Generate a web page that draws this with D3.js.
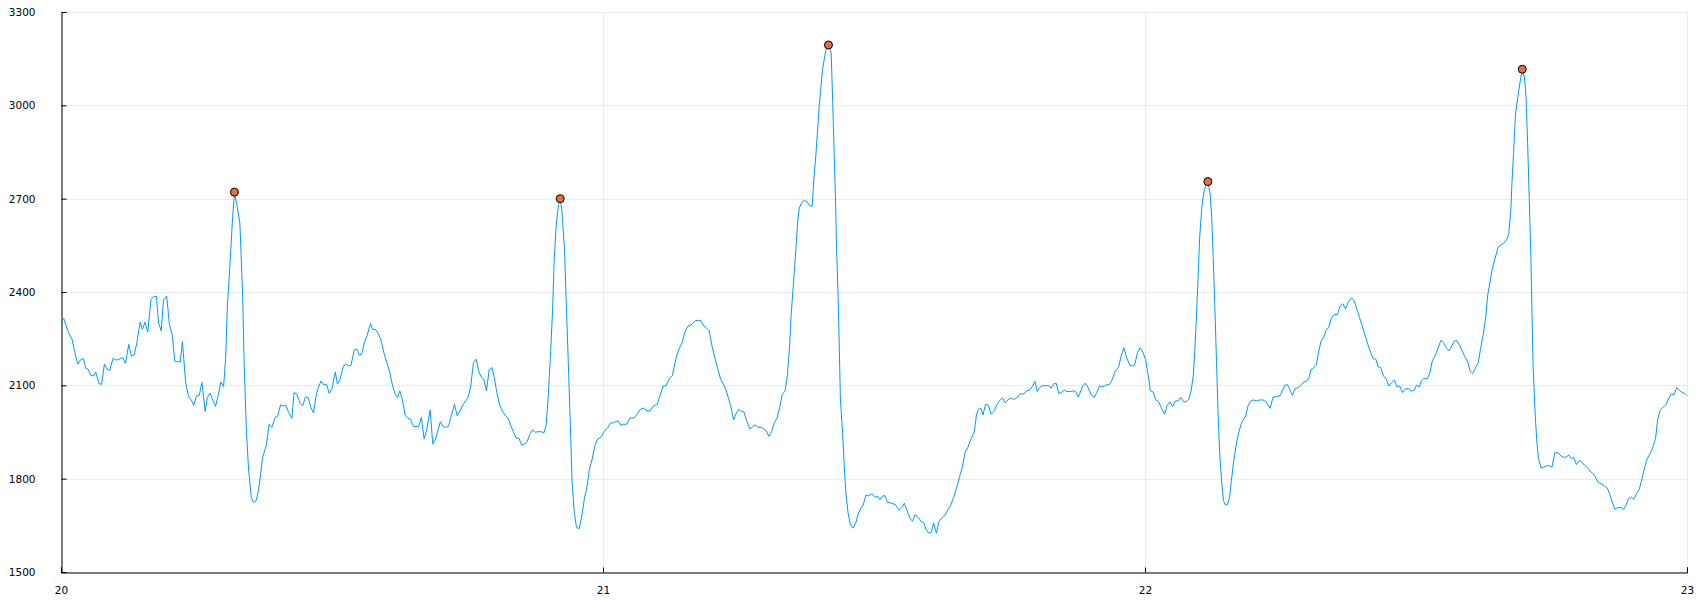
<!DOCTYPE html>
<html>
<head>
<meta charset="utf-8">
<script src="https://cdn.jsdelivr.net/npm/d3@7"></script>
<style>
  body { margin: 0; background: #fff; }
  svg { display: block; }
  text { font-family: "DejaVu Sans", sans-serif; font-size: 10.5px; fill: #000; }
</style>
</head>
<body>
<svg id="chart" width="1700" height="600"></svg>
<script>
// tick values
var xTicks = [20, 21, 22, 23];
var yTicks = [1500, 1800, 2100, 2400, 2700, 3000, 3300];

// detected R peaks
var peakTime = [20.320, 20.921, 21.416, 22.116, 22.696];
var peakValue = [2721, 2700, 3194, 2755, 3116];

// signal, [time (s), value]
var ecgTrace = [
  [20.000,2303],[20.005,2315],[20.014,2269],[20.020,2250],[20.025,2210],[20.031,2168],[20.037,2184],[20.041,2186],
  [20.046,2154],[20.050,2152],[20.055,2132],[20.060,2130],[20.064,2143],[20.070,2106],[20.075,2103],[20.080,2168],
  [20.085,2152],[20.090,2148],[20.096,2187],[20.102,2181],[20.107,2184],[20.114,2189],[20.119,2170],[20.125,2232],
  [20.130,2194],[20.135,2198],[20.140,2237],[20.146,2303],[20.150,2280],[20.155,2303],[20.160,2271],[20.166,2376],
  [20.171,2385],[20.176,2386],[20.180,2301],[20.185,2275],[20.189,2374],[20.195,2387],[20.200,2296],[20.205,2264],
  [20.210,2178],[20.215,2176],[20.220,2175],[20.224,2240],[20.230,2109],[20.235,2066],[20.241,2050],[20.245,2036],
  [20.250,2066],[20.255,2068],[20.260,2109],[20.266,2016],[20.270,2061],[20.275,2075],[20.280,2053],[20.285,2032],
  [20.290,2068],[20.295,2111],[20.300,2096],[20.304,2194],[20.307,2355],[20.312,2494],[20.316,2622],[20.320,2721],
  [20.325,2675],[20.330,2622],[20.335,2398],[20.338,2162],[20.342,1959],[20.346,1831],[20.351,1740],[20.355,1724],
  [20.360,1729],[20.365,1767],
  [20.372,1868],[20.379,1908],[20.384,1975],[20.389,1965],[20.395,1997],[20.400,2002],[20.405,2037],[20.410,2034],
  [20.415,2036],[20.420,2013],[20.426,1994],[20.430,2077],[20.435,2072],[20.441,2043],[20.446,2034],[20.451,2063],
  [20.456,2061],[20.461,2029],[20.466,2011],[20.470,2061],[20.475,2095],[20.480,2114],[20.485,2101],[20.490,2103],
  [20.495,2074],[20.500,2090],[20.506,2143],[20.510,2104],[20.515,2120],[20.521,2162],[20.526,2168],[20.531,2162],
  [20.535,2164],[20.541,2214],[20.546,2216],[20.550,2197],[20.555,2201],[20.560,2240],[20.565,2261],[20.571,2299],
  [20.575,2280],[20.580,2280],[20.585,2267],[20.590,2248],[20.596,2203],[20.601,2173],[20.606,2146],[20.611,2104],
  [20.616,2074],[20.621,2061],[20.625,2082],[20.630,2053],[20.635,2004],[20.640,1994],[20.645,1991],[20.650,1968],
  [20.655,1968],[20.660,1968],[20.665,1997],[20.670,1927],[20.675,1959],[20.681,2021],[20.686,1911],[20.691,1927],
  [20.696,1959],[20.700,1983],[20.705,1967],[20.710,1965],[20.715,1968],[20.720,2002],[20.726,2039],[20.731,2002],
  [20.736,2018],[20.742,2039],[20.748,2053],
  [20.752,2066],[20.756,2098],[20.761,2173],[20.766,2184],[20.771,2143],[20.776,2125],[20.780,2120],[20.785,2082],
  [20.790,2150],[20.795,2157],[20.800,2120],[20.804,2077],[20.810,2034],[20.815,2015],[20.820,2002],[20.825,1994],
  [20.830,1970],[20.835,1949],[20.840,1930],[20.845,1930],[20.850,1908],[20.855,1911],[20.860,1919],[20.865,1943],
  [20.870,1957],[20.875,1949],[20.880,1951],[20.886,1951],[20.891,1947],[20.895,1970],[20.899,2066],[20.903,2194],
  [20.907,2344],[20.910,2504],[20.914,2622],[20.918,2681],[20.921,2700],[20.924,2665],[20.929,2536],[20.932,2376],
  [20.936,2173],[20.940,1959],[20.943,1788],[20.947,1692],[20.951,1644],[20.956,1639],[20.961,1681],[20.966,1740],
  [20.970,1767],[20.975,1831],[20.980,1863],[20.985,1906],[20.990,1927],[20.996,1933],[21.002,1951],[21.009,1965],
  [21.014,1979],[21.018,1979],[21.023,1983],[21.028,1986],[21.033,1972],[21.038,1975],[21.044,1975],[21.050,1996],
  [21.057,1994],[21.063,2007],[21.069,2023],[21.075,2027],[21.081,2018],[21.087,2018],[21.093,2034],[21.100,2039],
  [21.105,2066],[21.111,2098],[21.116,2098],[21.122,2120],[21.128,2132],
  [21.135,2189],[21.140,2216],[21.146,2237],[21.151,2271],[21.157,2291],[21.164,2296],[21.170,2308],[21.176,2309],
  [21.181,2307],[21.186,2291],[21.191,2284],[21.196,2275],[21.201,2227],[21.207,2184],[21.212,2152],[21.217,2120],
  [21.222,2104],[21.227,2085],[21.232,2056],[21.237,2023],[21.241,1989],[21.245,2007],[21.250,2023],[21.255,2016],
  [21.260,2015],[21.265,1986],[21.271,1959],[21.276,1967],[21.281,1973],[21.286,1965],[21.291,1965],[21.296,1961],
  [21.301,1954],[21.306,1936],[21.311,1951],[21.316,1979],[21.321,1994],[21.326,2029],[21.331,2072],[21.336,2082],
  [21.340,2130],[21.344,2216],[21.347,2323],[21.351,2419],[21.355,2515],[21.359,2622],[21.362,2670],[21.367,2688],
  [21.371,2694],[21.376,2691],[21.381,2678],[21.386,2675],[21.389,2761],[21.393,2846],[21.399,3000],[21.405,3114],
  [21.411,3177],[21.416,3194],[21.421,3168],[21.424,3000],[21.429,2696],[21.431,2536],[21.434,2376],[21.436,2216],
  [21.438,2056],[21.442,1949],[21.445,1843],[21.448,1756],[21.452,1692],[21.456,1655],[21.461,1641],[21.466,1655],
  [21.470,1681],[21.475,1703],[21.480,1715],[21.485,1747],[21.490,1745],[21.496,1751],
  [21.502,1740],[21.507,1743],[21.511,1732],[21.515,1743],[21.520,1746],[21.525,1724],[21.533,1721],[21.540,1716],
  [21.546,1698],[21.551,1707],[21.556,1721],[21.561,1698],[21.566,1674],[21.571,1663],[21.576,1685],[21.581,1676],
  [21.587,1663],[21.592,1658],[21.596,1636],[21.601,1625],[21.606,1628],[21.610,1658],[21.615,1625],[21.620,1663],
  [21.625,1674],[21.630,1680],[21.635,1696],[21.641,1713],[21.647,1740],[21.653,1774],[21.658,1807],[21.663,1837],
  [21.668,1884],[21.673,1900],[21.679,1928],[21.685,1950],[21.689,2005],[21.692,2022],[21.697,2027],[21.701,2005],
  [21.706,2040],[21.711,2036],[21.716,2007],[21.721,2016],[21.727,2038],[21.732,2051],[21.737,2060],[21.742,2044],
  [21.748,2055],[21.754,2058],[21.759,2055],[21.765,2062],[21.770,2074],[21.776,2071],[21.781,2082],[21.787,2085],
  [21.792,2096],[21.797,2113],[21.801,2080],[21.806,2093],[21.811,2099],[21.817,2099],[21.822,2099],[21.827,2091],
  [21.831,2104],[21.836,2107],[21.841,2074],[21.846,2077],[21.851,2085],[21.856,2080],[21.862,2080],[21.868,2082],
  [21.872,2080],[21.877,2062],
  [21.880,2075],[21.885,2098],[21.890,2107],[21.895,2093],[21.900,2072],[21.906,2061],[21.911,2077],[21.916,2098],
  [21.921,2095],[21.927,2100],[21.935,2104],[21.940,2120],[21.945,2146],[21.951,2157],[21.956,2194],[21.961,2221],
  [21.966,2189],[21.972,2165],[21.977,2162],[21.981,2165],[21.986,2205],[21.991,2221],[21.996,2207],[22.001,2184],
  [22.006,2130],[22.010,2082],[22.015,2079],[22.020,2053],[22.025,2047],[22.030,2029],[22.036,2007],[22.041,2036],
  [22.046,2047],[22.051,2032],[22.056,2050],[22.061,2050],[22.066,2062],[22.071,2047],[22.076,2047],[22.081,2056],
  [22.085,2082],[22.089,2130],[22.092,2216],[22.095,2323],[22.098,2451],[22.101,2579],[22.105,2675],[22.109,2724],
  [22.113,2745],[22.116,2755],[22.120,2718],[22.123,2643],[22.126,2504],[22.129,2344],[22.132,2173],[22.135,2002],
  [22.138,1874],[22.142,1778],[22.145,1729],[22.148,1716],[22.152,1716],[22.156,1740],[22.159,1788],[22.163,1847],
  [22.168,1906],[22.173,1949],[22.178,1979],[22.183,1994],[22.186,2002],[22.190,2034],[22.195,2050],[22.200,2053],
  [22.206,2050],[22.212,2053],[22.218,2053],[22.224,2045],[22.231,2026],[22.236,2061],[22.242,2064],[22.249,2066],
  [22.254,2085],
  [22.258,2100],[22.263,2102],[22.267,2087],[22.272,2068],[22.277,2090],[22.283,2093],[22.288,2100],[22.293,2111],
  [22.298,2114],[22.303,2125],[22.306,2150],[22.311,2157],[22.316,2165],[22.320,2205],[22.325,2243],[22.330,2256],
  [22.335,2280],[22.339,2285],[22.344,2317],[22.349,2327],[22.355,2328],[22.360,2355],[22.365,2362],[22.370,2346],
  [22.375,2368],[22.381,2381],[22.386,2371],[22.391,2344],[22.396,2317],[22.401,2291],[22.406,2261],[22.411,2232],
  [22.416,2207],[22.421,2186],[22.426,2184],[22.430,2160],[22.435,2157],[22.440,2130],[22.445,2120],[22.450,2098],
  [22.455,2109],[22.460,2117],[22.465,2095],[22.470,2098],[22.475,2077],[22.480,2088],[22.486,2090],[22.491,2082],
  [22.496,2082],[22.501,2101],[22.506,2095],[22.510,2114],[22.515,2122],[22.520,2120],[22.525,2136],[22.530,2178],
  [22.535,2194],[22.540,2216],[22.546,2245],[22.551,2237],[22.556,2221],[22.561,2211],[22.566,2227],[22.571,2243],
  [22.576,2243],[22.581,2227],[22.585,2211],[22.590,2192],[22.595,2178],[22.600,2146],[22.605,2138],[22.610,2157],
  [22.615,2173],[22.619,2216],[22.624,2264],[22.629,2323],[22.632,2387],
  [22.641,2477],[22.646,2509],[22.651,2541],[22.656,2552],[22.662,2557],[22.667,2568],[22.671,2584],[22.675,2664],
  [22.677,2749],[22.680,2845],[22.682,2920],[22.684,2979],[22.688,3027],[22.692,3075],[22.696,3116],[22.700,3091],
  [22.703,3027],[22.706,2877],[22.709,2696],[22.712,2515],[22.714,2333],[22.716,2163],[22.720,2003],[22.723,1917],
  [22.726,1864],[22.731,1834],[22.737,1838],[22.744,1843],[22.751,1837],[22.756,1883],[22.761,1885],[22.766,1875],
  [22.772,1869],[22.777,1869],[22.782,1877],[22.787,1864],[22.791,1869],[22.796,1845],[22.801,1859],[22.806,1853],
  [22.811,1843],[22.817,1834],[22.823,1821],[22.830,1809],[22.836,1787],[22.842,1784],[22.848,1776],[22.853,1770],
  [22.858,1747],[22.863,1720],[22.867,1701],[22.872,1707],[22.878,1707],[22.883,1701],[22.887,1712],[22.892,1736],
  [22.897,1741],[22.902,1734],[22.907,1752],[22.912,1766],[22.917,1800],[22.922,1837],[22.927,1866],[22.932,1880],
  [22.937,1901],[22.942,1930],[22.946,1992],[22.951,2022],[22.956,2030],[22.961,2037],[22.966,2057],[22.971,2072],
  [22.976,2070],[22.981,2093],[22.986,2083],[22.991,2077],[22.996,2074],[23.000,2067]
];

var svg = d3.select("#chart");
var plotLeft = 61, plotRight = 1687, plotTop = 12, plotBottom = 572;

var x = d3.scaleLinear().domain([20, 23]).range([plotLeft, plotRight]);
var y = d3.scaleLinear().domain([1500, 3300]).range([plotBottom, plotTop]);

function px(v) { return Math.round(v) + 0.5; }

// grid
var grid = svg.append("g").attr("stroke", "#000").attr("stroke-opacity", 0.08).attr("stroke-width", 1);
grid.selectAll(".gx").data(xTicks).enter().append("line")
    .attr("x1", function(d) { return px(x(d)); })
    .attr("x2", function(d) { return px(x(d)); })
    .attr("y1", plotTop)
    .attr("y2", plotBottom);
grid.selectAll(".gy").data(yTicks).enter().append("line")
    .attr("x1", plotLeft)
    .attr("x2", plotRight)
    .attr("y1", function(d) { return px(y(d)); })
    .attr("y2", function(d) { return px(y(d)); });

// axes (Plots style: spine + inward ticks)
var xAxis = d3.axisBottom(x).tickValues(xTicks).tickSize(-5).tickPadding(14).tickFormat(d3.format("d"));
var yAxis = d3.axisLeft(y).tickValues(yTicks).tickSize(-5).tickPadding(26).tickFormat(d3.format("d"));

var gx = svg.append("g").attr("transform", "translate(0," + (plotBottom + 0.5) + ")").call(xAxis);
var gy = svg.append("g").attr("transform", "translate(" + (plotLeft + 0.5) + ",0)").call(yAxis);

[gx, gy].forEach(function(g) {
    g.select(".domain").attr("stroke", "#000").attr("stroke-width", 1);
    g.selectAll(".tick line").attr("stroke", "#000");
    g.selectAll(".tick text")
      .attr("fill", "#000")
      .style("font-family", "DejaVu Sans, sans-serif")
      .style("font-size", "10.5px");
});

// signal
var line = d3.line()
    .x(function(d) { return x(d[0]); })
    .y(function(d) { return y(d[1]); });

svg.append("path")
    .datum(ecgTrace)
    .attr("fill", "none")
    .attr("stroke", "#009AFA")
    .attr("stroke-width", 1)
    .attr("stroke-linejoin", "round")
    .attr("d", line);

// peaks
svg.append("g").selectAll("circle")
    .data(peakTime)
    .enter().append("circle")
      .attr("cx", function(d) { return x(d); })
      .attr("cy", function(d, i) { return y(peakValue[i]); })
      .attr("r", 4)
      .attr("fill", "#E26F46")
      .attr("stroke", "#000")
      .attr("stroke-width", 1);
</script>
</body>
</html>
